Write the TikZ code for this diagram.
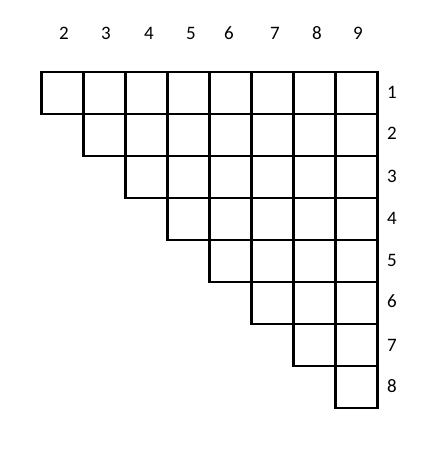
\documentclass[tikz,border=0pt]{standalone}
\usepackage{fontspec}
\setmainfont{Carlito}
\begin{document}
\begin{tikzpicture}[x=1pt,y=-1pt,
  cell/.style={draw=black,line width=2.9pt,minimum width=42pt,minimum height=42pt,inner sep=0pt,outer sep=0pt},
  lab/.style={font=\fontsize{19}{21}\selectfont,inner sep=0pt}]
\useasboundingbox (0,0) rectangle (437,458);
\foreach \r in {1,...,8}{
  \foreach \c in {\r,...,8}{
    \node[cell] (cell-\r-\c) at ({41.5+42*(\c-1)+21},{72+42*(\r-1)+21}) {};
  }
}
\foreach \n/\x in {2/64,3/106,4/149,5/191,6/229,7/275,8/317,9/358}{
  \node[lab] (top-\n) at (\x,33) {\n};
}
\foreach \n/\y in {1/92,2/133,3/176,4/218,5/260,6/301,7/345,8/386}{
  \node[lab] (right-\n) at (392,\y) {\n};
}
\end{tikzpicture}
\end{document}
